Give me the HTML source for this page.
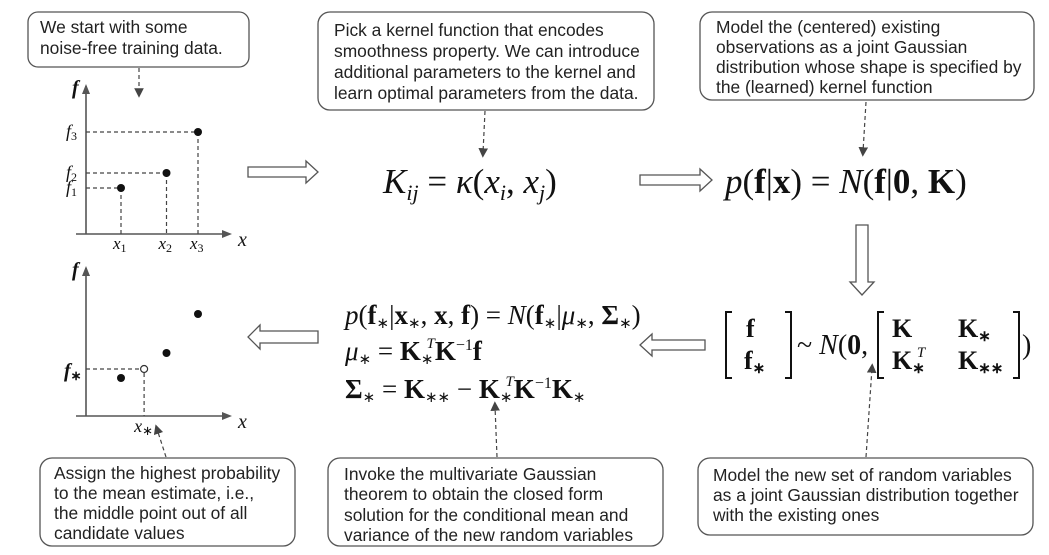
<!DOCTYPE html>
<html><head><meta charset="utf-8"><style>
html,body{margin:0;padding:0;background:#fff;}
svg{display:block;}
.bt{font-family:"Liberation Sans",sans-serif;font-size:17.4px;fill:#222;}
.m{font-family:"Liberation Serif",serif;fill:#111;}
.box{fill:#fff;stroke:#555;stroke-width:1.3;}
.dash{stroke:#444;stroke-width:1.2;stroke-dasharray:4,3;fill:none;}
.ha{fill:#fff;stroke:#555;stroke-width:1.3;}
</style></head><body>
<svg id="s" width="1049" height="555" viewBox="0 0 1049 555" xmlns="http://www.w3.org/2000/svg">
<defs><marker id="ah" markerWidth="8" markerHeight="8" refX="4" refY="4" orient="auto"><path d="M0,0 L8,4 L0,8 z" fill="#444"/></marker></defs>

<g>
<rect class="box" x="28" y="12" width="221" height="55" rx="10"/>
<text class="bt" x="40" y="33">We start with some</text>
<text class="bt" x="40" y="54">noise-free training data.</text>
</g>
<line class="dash" x1="139" y1="68" x2="139" y2="93" marker-end="url(#ah)"/>

<g id="chart1"></g>
<g id="chart2"></g>

<g>
<rect class="box" x="318" y="12" width="336" height="98" rx="12"/>
<text class="bt" x="334" y="36">Pick a kernel function that encodes</text>
<text class="bt" x="334" y="57">smoothness property. We can introduce</text>
<text class="bt" x="334" y="78">additional parameters to the kernel and</text>
<text class="bt" x="334" y="99">learn optimal parameters from the data.</text>
</g>
<line class="dash" x1="485" y1="111" x2="483" y2="153" marker-end="url(#ah)"/>
<text class="m" x="383" y="193" font-size="35"><tspan font-style="italic">K</tspan><tspan font-style="italic" font-size="22" dy="7">ij</tspan><tspan dy="-7"> = </tspan><tspan font-style="italic">κ</tspan>(<tspan font-style="italic">x</tspan><tspan font-style="italic" font-size="22" dy="7">i</tspan><tspan dy="-7">, </tspan><tspan font-style="italic">x</tspan><tspan font-style="italic" font-size="22" dy="7">j</tspan><tspan dy="-7">)</tspan></text>

<g>
<rect class="box" x="700" y="12" width="334" height="88" rx="12"/>
<text class="bt" x="716" y="33">Model the (centered) existing</text>
<text class="bt" x="716" y="53">observations as a joint Gaussian</text>
<text class="bt" x="716" y="73">distribution whose shape is specified by</text>
<text class="bt" x="716" y="93">the (learned) kernel function</text>
</g>
<line class="dash" x1="866" y1="102" x2="863" y2="152" marker-end="url(#ah)"/>
<text class="m" x="725" y="193" font-size="35"><tspan font-style="italic">p</tspan>(<tspan font-weight="bold">f</tspan>|<tspan font-weight="bold">x</tspan>) = <tspan font-style="italic">N</tspan>(<tspan font-weight="bold">f</tspan>|<tspan font-weight="bold">0</tspan>, <tspan font-weight="bold">K</tspan>)</text>

<path class="ha" d="M248,167 H306 V161 L318,172 L306,183 V177 H248 Z"/>
<path class="ha" d="M640,175 H700 V169 L712,180 L700,191 V185 H640 Z"/>
<path class="ha" d="M856,225 V282 H850 L862,295 L874,282 H868 V225 Z"/>
<path class="ha" d="M705,340 H652 V334 L640,345 L652,356 V350 H705 Z"/>
<path class="ha" d="M318,331 H260 V325 L248,337 L260,349 V343 H318 Z"/>

<g>
<path d="M732,312 h-6 v66 h6 M785,312 h6 v66 h-6" fill="none" stroke="#111" stroke-width="2"/>
<text class="m" x="746" y="337" font-size="26" font-weight="bold">f</text>
<text class="m" x="744" y="369" font-size="26" font-weight="bold">f<tspan font-size="15" dy="4">∗</tspan></text>
<text class="m" x="797" y="354" font-size="28">~ <tspan font-style="italic">N</tspan>(<tspan font-weight="bold">0</tspan>,</text>
<path d="M884,312 h-6 v66 h6 M1013,312 h6 v66 h-6" fill="none" stroke="#111" stroke-width="2"/>
<text class="m" x="892" y="337" font-size="26" font-weight="bold">K</text>
<text class="m" x="958" y="337" font-size="26" font-weight="bold">K<tspan font-size="15" dy="4">∗</tspan></text>
<text class="m" x="892" y="369" font-size="26" font-weight="bold">K<tspan font-size="15" dy="4">∗</tspan><tspan font-size="15" font-style="italic" font-weight="normal" dx="-8" dy="-16">T</tspan></text>
<text class="m" x="958" y="369" font-size="26" font-weight="bold">K<tspan font-size="15" dy="4">∗∗</tspan></text>
<text class="m" x="1022" y="354" font-size="28">)</text>
</g>

<g>
<text class="m" x="345" y="324" font-size="27"><tspan font-style="italic">p</tspan>(<tspan font-weight="bold">f</tspan><tspan font-size="15" dy="4">∗</tspan><tspan dy="-4">|</tspan><tspan font-weight="bold">x</tspan><tspan font-size="15" dy="4">∗</tspan><tspan dy="-4">, </tspan><tspan font-weight="bold">x</tspan>, <tspan font-weight="bold">f</tspan>) = <tspan font-style="italic">N</tspan>(<tspan font-weight="bold">f</tspan><tspan font-size="15" dy="4">∗</tspan><tspan dy="-4">|</tspan><tspan font-style="italic">μ</tspan><tspan font-size="15" dy="4">∗</tspan><tspan dy="-4">, </tspan><tspan font-weight="bold">Σ</tspan><tspan font-size="15" dy="4">∗</tspan><tspan dy="-4">)</tspan></text>
<text class="m" x="345" y="360" font-size="27"><tspan font-style="italic">μ</tspan><tspan font-size="15" dy="4">∗</tspan><tspan dy="-4"> = </tspan><tspan font-weight="bold">K</tspan><tspan font-size="15" dy="4">∗</tspan><tspan font-size="15" font-style="italic" dx="-7" dy="-16">T</tspan><tspan font-weight="bold" dy="12">K</tspan><tspan font-size="16" dy="-10">−1</tspan><tspan font-weight="bold" dy="10">f</tspan></text>
<text class="m" x="345" y="398" font-size="27"><tspan font-weight="bold">Σ</tspan><tspan font-size="15" dy="4">∗</tspan><tspan dy="-4"> = </tspan><tspan font-weight="bold">K</tspan><tspan font-size="15" dy="4">∗∗</tspan><tspan dy="-4"> − </tspan><tspan font-weight="bold">K</tspan><tspan font-size="15" dy="4">∗</tspan><tspan font-size="15" font-style="italic" dx="-7" dy="-16">T</tspan><tspan font-weight="bold" dy="12">K</tspan><tspan font-size="16" dy="-10">−1</tspan><tspan font-weight="bold" dy="10">K</tspan><tspan font-size="15" dy="4">∗</tspan></text>
</g>

<line class="dash" x1="866" y1="457" x2="872" y2="368" marker-end="url(#ah)"/>
<g>
<rect class="box" x="698" y="458" width="335" height="77" rx="12"/>
<text class="bt" x="713" y="481">Model the new set of random variables</text>
<text class="bt" x="713" y="501">as a joint Gaussian distribution together</text>
<text class="bt" x="713" y="521">with the existing ones</text>
</g>

<line class="dash" x1="497" y1="457" x2="495" y2="406" marker-end="url(#ah)"/>
<g>
<rect class="box" x="328" y="458" width="335" height="88" rx="12"/>
<text class="bt" x="344" y="480">Invoke the multivariate Gaussian</text>
<text class="bt" x="344" y="500">theorem to obtain the closed form</text>
<text class="bt" x="344" y="521">solution for the conditional mean and</text>
<text class="bt" x="344" y="541">variance of the new random variables</text>
</g>

<line class="dash" x1="166" y1="457" x2="157" y2="429" marker-end="url(#ah)"/>
<g>
<rect class="box" x="40" y="458" width="255" height="88" rx="12"/>
<text class="bt" x="54" y="479">Assign the highest probability</text>
<text class="bt" x="54" y="499">to the mean estimate, i.e.,</text>
<text class="bt" x="54" y="519">the middle point out of all</text>
<text class="bt" x="54" y="539">candidate values</text>
</g>
</svg>
<script>
const xVals = [1.0, 2.3, 3.2];
const fVals = [2.3, 3.05, 5.1];
const fVals2 = [1.9, 3.15, 5.1];
const xStar = [1.66];
const fStar = [2.35];
const NS = "http://www.w3.org/2000/svg";
function mk(parent, tag, attrs, txt){const e=document.createElementNS(NS,tag);for(const k in attrs)e.setAttribute(k,attrs[k]);if(txt)e.textContent=txt;parent.appendChild(e);return e;}
function axes(g, ox, oy, top){
  mk(g,'line',{x1:ox,y1:oy,x2:ox,y2:top,stroke:'#555','stroke-width':1.6});
  mk(g,'path',{d:`M${ox-4},${top+8} L${ox},${top-2} L${ox+4},${top+8} z`,fill:'#555'});
  mk(g,'line',{x1:ox-10,y1:oy,x2:224,y2:oy,stroke:'#555','stroke-width':1.6});
  mk(g,'path',{d:`M222,${oy-4} L232,${oy} L222,${oy+4} z`,fill:'#555'});
  mk(g,'text',{x:ox-14,y:top+8,class:'m','font-size':20,'font-style':'italic','font-weight':'bold'},'f');
  mk(g,'text',{x:238,y:oy+12,class:'m','font-size':20,'font-style':'italic'},'x');
}
const xs = v => 86 + v*35;
const ys1 = v => 234 - v*20;
const ys2 = v => 416 - v*20;
const g1 = document.getElementById('chart1');
axes(g1, 86, 234, 86);
xVals.forEach((xv,i)=>{
  const px=xs(xv), py=ys1(fVals[i]);
  const h=mk(g1,'line',{x1:86,y1:py,x2:px,y2:py,class:'dash'});
  
  
  const v=mk(g1,'line',{x1:px,y1:py,x2:px,y2:234,class:'dash'});
  
  
  const c=mk(g1,'circle',{cx:px,cy:py,r:4,fill:'#111'});
  
  
  const fl=mk(g1,'text',{x:66,y:py+5,class:'m','font-size':18,'font-style':'italic'},'f');
  
  
  mk(fl,'tspan',{'font-size':12,dy:3,'font-style':'normal'},String(i+1));
  const xl=mk(g1,'text',{x:px-8,y:249,class:'m','font-size':17,'font-style':'italic'},'x');
  
  
  mk(xl,'tspan',{'font-size':12,dy:3,'font-style':'normal'},String(i+1));
});
const g2 = document.getElementById('chart2');
axes(g2, 86, 416, 268);
xVals.forEach((xv,i)=>{
  const c=mk(g2,'circle',{cx:xs(xv),cy:ys2(fVals2[i]),r:4,fill:'#111'});
  
  
});
xStar.forEach((xv,i)=>{
  const px=xs(xv), py=ys2(fStar[i]);
  const h=mk(g2,'line',{x1:86,y1:py,x2:px-4,y2:py,class:'dash'});
  
  
  const v=mk(g2,'line',{x1:px,y1:py+4,x2:px,y2:416,class:'dash'});
  
  
  const c=mk(g2,'circle',{cx:px,cy:py,r:3.5,fill:'#fff',stroke:'#333','stroke-width':1.2});
  
  
  const fl=mk(g2,'text',{x:64,y:py+8,class:'m','font-size':20,'font-style':'italic','font-weight':'bold'},'f');
  
  
  mk(fl,'tspan',{'font-size':13,dy:3,'font-style':'normal'},'∗');
  const xl=mk(g2,'text',{x:px-10,y:432,class:'m','font-size':18,'font-style':'italic'},'x');
  
  
  mk(xl,'tspan',{'font-size':13,dy:3,'font-style':'normal'},'∗');
});
</script>
</body></html>
